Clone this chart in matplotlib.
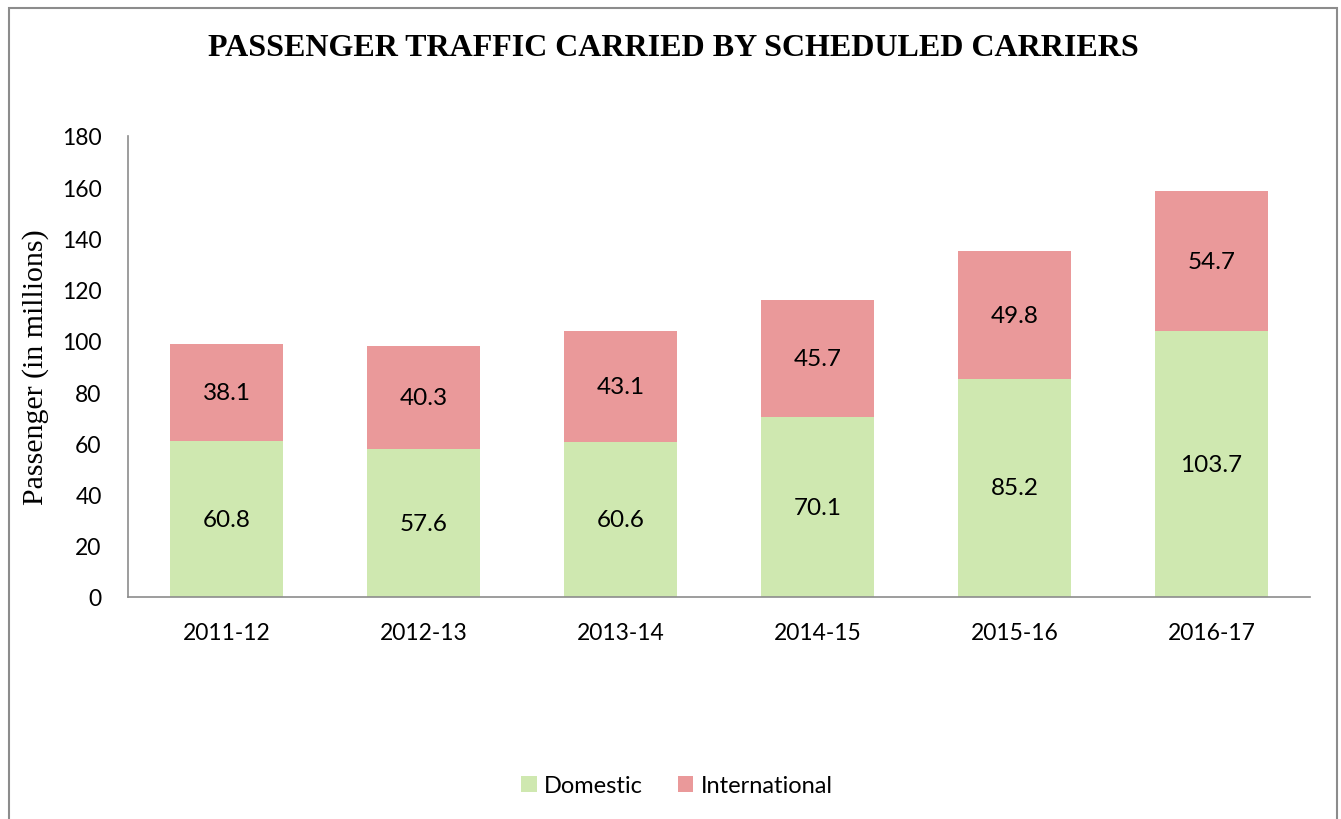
import matplotlib.pyplot as plt
import matplotlib.patches as patches
import numpy as np

years = ['2011-12', '2012-13', '2013-14', '2014-15', '2015-16', '2016-17']
domestic = [60.8, 57.6, 60.6, 70.1, 85.2, 103.7]
international = [38.1, 40.3, 43.1, 45.7, 49.8, 54.7]

green = '#CFE8B0'
red = '#EA999A'
sans = ['Lato', 'DejaVu Sans']
serif = ['Liberation Serif', 'DejaVu Serif']

fig = plt.figure(figsize=(13.41, 8.2), dpi=100)
ax = fig.add_axes([128 / 1341, 1 - 598 / 820, (1310 - 128) / 1341, (598 - 137) / 820])

x = np.arange(len(years))
b1 = ax.bar(x, domestic, width=0.574, color=green, label='Domestic')
b2 = ax.bar(x, international, width=0.574, bottom=domestic, color=red, label='International')

# value labels in the middle of each segment
for xi, d, i in zip(x, domestic, international):
    ax.text(xi, d / 2, f'{d}', ha='center', va='center', fontsize=17.5, family=sans)
    ax.text(xi, d + i / 2, f'{i}', ha='center', va='center', fontsize=17.5, family=sans)

ax.set_xlim(-0.5, len(years) - 0.5)
ax.set_ylim(0, 180)
ax.set_yticks(range(0, 181, 20))
ax.set_xticks(x)
ax.set_xticklabels(years)
for lbl in ax.get_xticklabels() + ax.get_yticklabels():
    lbl.set_family(sans)
    lbl.set_fontsize(16.5)
ax.tick_params(length=0)
ax.tick_params(axis='x', pad=18)
ax.tick_params(axis='y', pad=19)
for s in ['top', 'right']:
    ax.spines[s].set_visible(False)
for s in ['left', 'bottom']:
    ax.spines[s].set_color('#8c8c8c')
    ax.spines[s].set_linewidth(1.2)

ax.set_ylabel('Passenger (in millions)', fontsize=21.5, family=serif, labelpad=9)

fig.text(673 / 1341, 1 - 48 / 820, 'PASSENGER TRAFFIC CARRIED BY SCHEDULED CARRIERS',
         ha='center', va='center', fontsize=23, fontweight='bold', family=serif)

fig.legend(handles=[b1, b2], loc='center', bbox_to_anchor=(677 / 1341, 1 - 787 / 820),
           ncol=2, frameon=False, prop={'family': sans, 'size': 17},
           handlelength=0.65, handleheight=0.65, columnspacing=1.5, handletextpad=0.3)

# outer frame of the chart area
frame = patches.Rectangle((9 / 1341, -0.05), (1337 - 9) / 1341, 1.05 - 9 / 820,
                          transform=fig.transFigure, fill=False, edgecolor='#8c8c8c', linewidth=1.5)
fig.patches.append(frame)

plt.savefig('out.png', dpi=100)
